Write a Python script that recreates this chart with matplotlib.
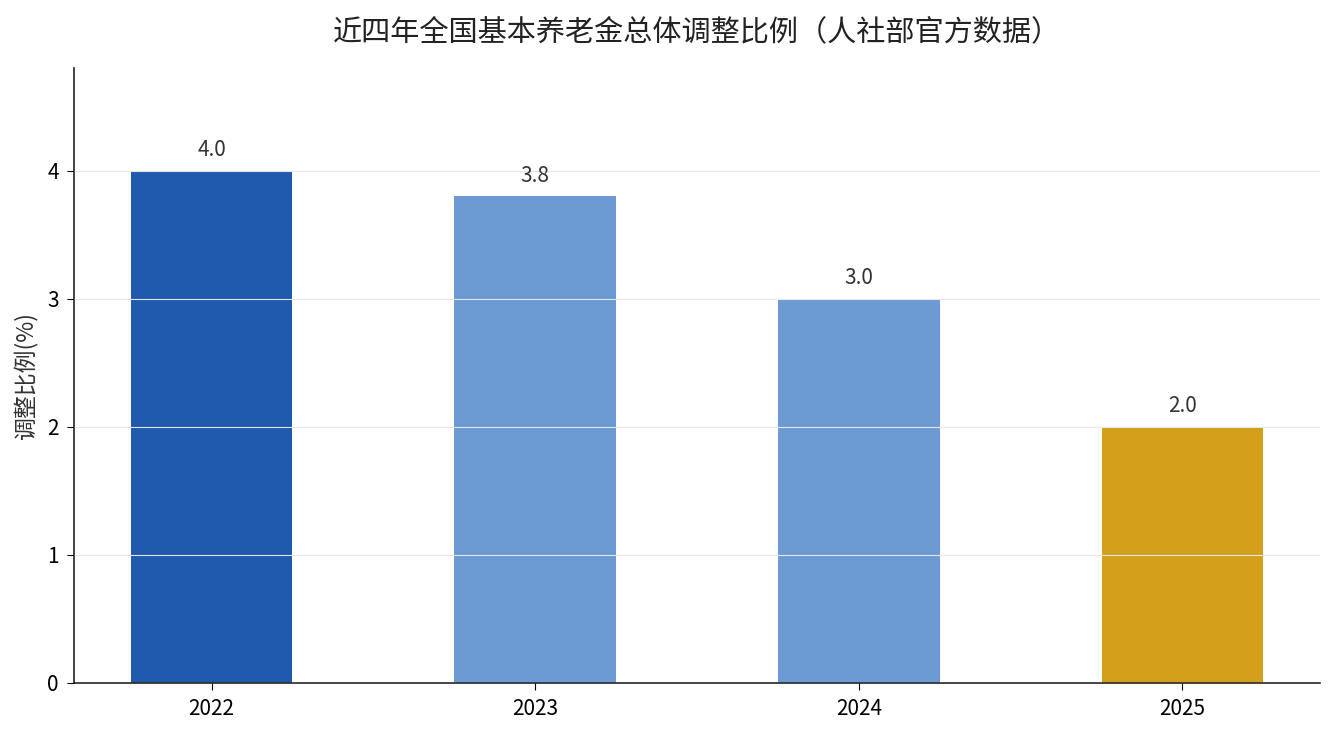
import matplotlib
matplotlib.use("Agg")
import matplotlib.pyplot as plt

plt.rcParams['font.family'] = ['Noto Sans CJK SC', 'DejaVu Sans']

years = ["2022", "2023", "2024", "2025"]
rates = [4.0, 3.8, 3.0, 2.0]
colors = ["#1f5aae", "#6b9bd2", "#6b9bd2", "#d4a01b"]
title = "近四年全国基本养老金总体调整比例（人社部官方数据）"
ylabel = "调整比例(%)"

fig, ax = plt.subplots(figsize=(13.34, 7.35), dpi=100)
fig.subplots_adjust(left=0.0555, right=0.9895, top=0.907, bottom=0.071)

x = list(range(len(years)))
bars = ax.bar(x, rates, width=0.5, color=colors, zorder=1)
ax.set_xticks(x)
ax.set_xticklabels(years)
ax.set_ylim(0, max(rates) * 1.2)
ax.set_yticks([0, 1, 2, 3, 4])
ax.tick_params(labelsize=15, pad=6, length=5)
ax.set_ylabel(ylabel, fontsize=16.5, color="#333333", labelpad=6)
ax.set_title(title, fontsize=21, color="#222222", pad=20)

ax.grid(axis="y", color="#e6e6e6", linewidth=0.8, zorder=2)
ax.set_axisbelow(False)
for s in ["top", "right"]:
    ax.spines[s].set_visible(False)
for s in ["left", "bottom"]:
    ax.spines[s].set_linewidth(1.2)
    ax.spines[s].set_color("#222222")

for xi, v in zip(x, rates):
    ax.annotate(f"{v:.1f}", (xi, v), xytext=(0, 7), textcoords="offset points",
                ha="center", va="bottom", fontsize=15, color="#333333")

fig.savefig("out.png", dpi=100)
